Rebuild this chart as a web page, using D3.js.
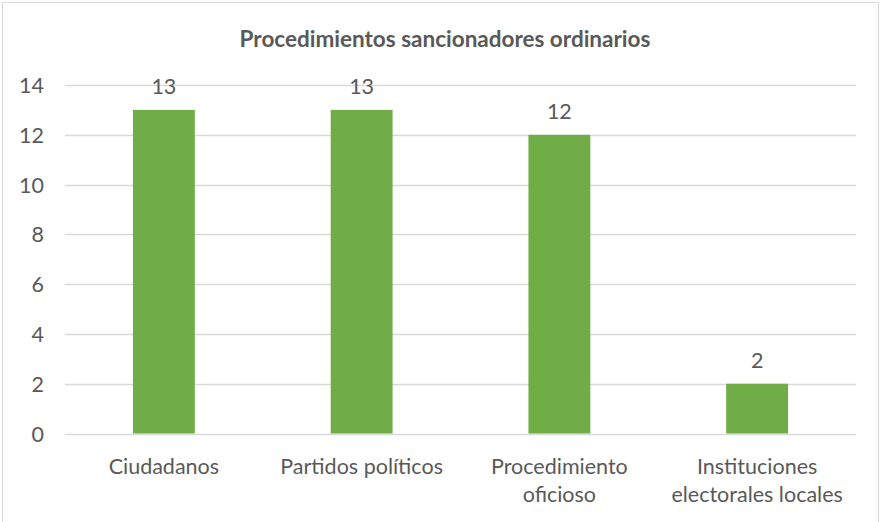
<!DOCTYPE html>
<html><head><meta charset="utf-8">
<script src="https://cdn.jsdelivr.net/npm/d3@7"></script>
<style>body{margin:0;background:#fff}svg{display:block}text{font-family:Lato,"Open Sans",sans-serif}</style>
</head><body><svg id="c" width="884" height="522"></svg>
<script>
const categories = [["Ciudadanos"], ["Partidos políticos"], ["Procedimiento","oficioso"], ["Instituciones","electorales locales"]];
const values = [13, 13, 12, 2];
const yTicks = [0, 2, 4, 6, 8, 10, 12, 14];
const title = "Procedimientos sancionadores ordinarios";

const svg = d3.select("#c");
svg.append("rect").attr("x",2.5).attr("y",2.5).attr("width",876).attr("height",525)
  .attr("fill","#fff").attr("stroke","#d9d9d9");
const x = d3.scaleBand().domain(d3.range(categories.length)).range([65,856]).paddingInner(0.687).paddingOuter(0.3435);
const y = d3.scaleLinear().domain([0,14]).range([433.5,85]);
const txt = "#595959";
const fs = 21.5;

svg.append("g").selectAll("line").data(yTicks).join("line")
  .attr("x1",65).attr("x2",856).attr("y1",d=>Math.round(y(d))+0.5).attr("y2",d=>Math.round(y(d))+0.5)
  .attr("stroke","#d9d9d9").attr("stroke-width",1.3);
svg.append("g").selectAll("text").data(yTicks).join("text")
  .attr("x",44).attr("y",d=>y(d)+8).attr("text-anchor","end").attr("fill",txt).attr("font-size",fs).text(d=>d);

svg.append("g").selectAll("rect").data(values).join("rect")
  .attr("x",(d,i)=>x(i)).attr("width",x.bandwidth()).attr("y",d=>y(d)).attr("height",d=>y(0)-y(d)).attr("fill","#70ad47");
svg.append("g").selectAll("text").data(values).join("text")
  .attr("x",(d,i)=>x(i)+x.bandwidth()/2).attr("y",d=>y(d)-16).attr("text-anchor","middle").attr("fill",txt).attr("font-size",fs).text(d=>d);

const cl = svg.append("g").selectAll("text").data(categories).join("text")
  .attr("text-anchor","middle").attr("fill",txt).attr("font-size",fs);
cl.each(function(d,i){
  d3.select(this).selectAll("tspan").data(d).join("tspan")
    .attr("x",x(i)+x.bandwidth()/2).attr("y",(t,j)=>474+j*28).text(t=>t);
});
svg.append("text").attr("x",445).attr("y",47).attr("text-anchor","middle").attr("fill",txt)
  .attr("font-size",22.5).attr("font-weight","bold").text(title);
</script></body></html>
